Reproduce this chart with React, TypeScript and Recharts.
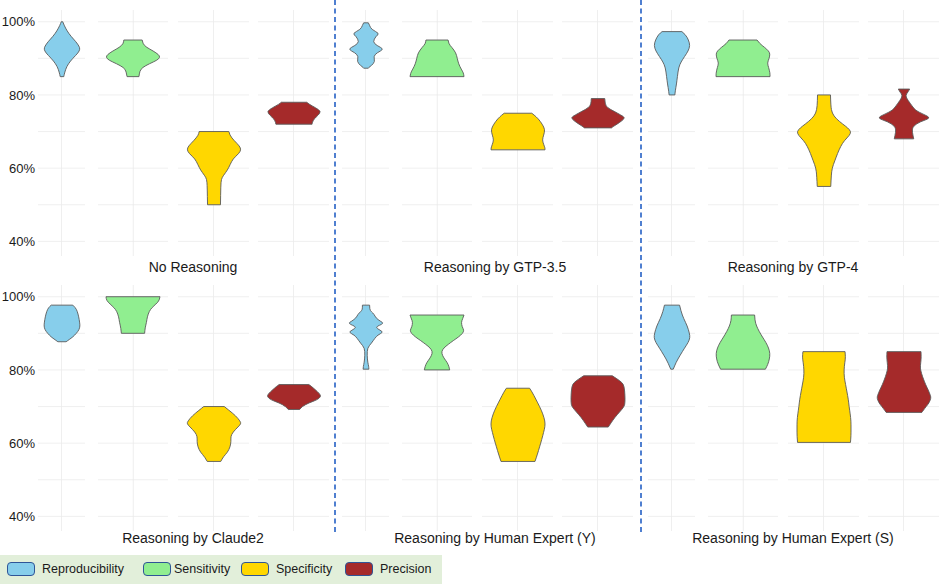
import React from 'react';
import { ComposedChart, Bar, XAxis, YAxis, CartesianGrid } from 'recharts';

// ---------- data ----------
const metrics = ['Reproducibility', 'Sensitivity', 'Specificity', 'Precision'];
const metricColors = ['#87CEEB', '#90EE90', '#FFD700', '#A52A2A'];
const row1Groups = ['No Reasoning', 'Reasoning by GTP-3.5', 'Reasoning by GTP-4'];
const row2Groups = ['Reasoning by Claude2', 'Reasoning by Human Expert (Y)', 'Reasoning by Human Expert (S)'];
const yTicks = [40, 50, 60, 70, 80, 90, 100];

// violin profiles: [value %, relative width (1 = widest)]
const noReasRepro = [[100, 0.04], [99, 0.12], [97.5, 0.28], [96, 0.5], [94.5, 0.78], [93.3, 0.95], [92.5, 1.0], [91.5, 0.9], [90, 0.6], [88.5, 0.35], [87, 0.2], [85.5, 0.12], [85, 0.1]];
const noReasSens = [[95, 0.34], [94, 0.36], [93, 0.5], [92, 0.75], [91, 0.95], [90.3, 1.0], [89.5, 0.9], [88.5, 0.6], [87.5, 0.35], [86.5, 0.25], [85, 0.22]];
const noReasSpec = [[70, 0.55], [69, 0.58], [67.5, 0.75], [66, 0.95], [65, 1.0], [64, 0.92], [62.5, 0.7], [61, 0.6], [59.5, 0.5], [58, 0.35], [57, 0.27], [55, 0.25], [50, 0.24]];
const noReasPrec = [[78, 0.47], [77.5, 0.55], [76.5, 0.8], [75.5, 1.0], [74.5, 0.9], [73.5, 0.75], [72.5, 0.68], [72, 0.67]];

const gpt35Repro = [[99.7, 0.13], [99, 0.2], [97.9, 0.3], [96.8, 0.75], [96, 0.55], [94.5, 0.38], [93.5, 0.6], [92.5, 1.0], [91.5, 0.6], [90.5, 0.42], [89.1, 0.5], [88, 0.3], [87.5, 0.15], [87.3, 0.13]];
const gpt35Sens = [[95, 0.41], [94, 0.43], [93, 0.55], [91.5, 0.7], [90, 0.75], [88.5, 0.8], [87, 0.9], [86, 0.98], [85, 1.0]];
const gpt35Spec = [[75, 0.51], [74.5, 0.6], [73.5, 0.75], [72, 0.9], [70.5, 1.0], [69, 0.95], [67.7, 0.9], [66.5, 0.95], [65.5, 1.0], [65, 1.0]];
const gpt35Prec = [[79, 0.25], [77.5, 0.26], [76.5, 0.35], [75.5, 0.6], [74.5, 0.85], [73.8, 1.0], [73, 0.9], [72, 0.7], [71.3, 0.55], [71, 0.5]];

const gpt4Repro = [[97.3, 0.55], [96.5, 0.75], [95, 0.92], [93.5, 1.0], [92, 0.9], [90.5, 0.7], [89, 0.5], [87.5, 0.37], [85, 0.3], [83, 0.25], [81, 0.18], [80, 0.16]];
const gpt4Sens = [[95, 0.52], [94, 0.62], [93, 0.8], [92, 0.95], [91.2, 1.0], [90, 0.97], [88.7, 0.9], [87.5, 0.95], [86, 1.0], [85, 1.0]];
const gpt4Spec = [[80, 0.24], [77, 0.25], [75, 0.3], [73.5, 0.45], [72, 0.7], [71, 0.88], [70, 1.0], [69, 0.95], [67.5, 0.75], [66, 0.62], [64, 0.5], [62, 0.4], [60, 0.3], [58, 0.27], [55, 0.25]];
const gpt4Prec = [[81.6, 0.21], [80.8, 0.15], [79.8, 0.05], [78.5, 0.15], [77, 0.3], [75.8, 0.42], [74.8, 0.7], [73.7, 1.0], [72.7, 0.6], [71.5, 0.35], [70.5, 0.3], [69, 0.33], [68, 0.36]];

const claudeRepro = [[97.7, 0.6], [97, 0.75], [96, 0.85], [94.5, 0.93], [93, 0.98], [92, 1.0], [91, 0.95], [90, 0.8], [89, 0.6], [88.3, 0.4], [87.7, 0.23]];
const claudeSens = [[100, 1.0], [99, 0.98], [98, 0.85], [97, 0.7], [96, 0.6], [94.5, 0.53], [93, 0.5], [91.5, 0.45], [90, 0.43]];
const claudeSpec = [[70, 0.38], [69, 0.55], [67.5, 0.8], [66, 0.97], [65.3, 1.0], [64.5, 0.9], [63, 0.7], [61.8, 0.62], [60.5, 0.63], [59, 0.6], [57.5, 0.5], [56.3, 0.35], [55, 0.25]];
const claudePrec = [[76, 0.55], [75.5, 0.65], [74.5, 0.8], [73.5, 0.95], [72.7, 1.0], [71.8, 0.85], [71, 0.55], [70, 0.3], [69.2, 0.21]];

const humanYRepro = [[97.7, 0.2], [96.5, 0.2], [95.9, 0.3], [95.2, 0.45], [94.2, 0.55], [93.3, 0.8], [92.7, 1.0], [91.7, 0.5], [90.8, 0.8], [90.3, 0.95], [89.5, 0.65], [88.7, 0.5], [87.3, 0.3], [86, 0.08], [84, 0.06], [82, 0.1], [81, 0.15], [80.2, 0.16]];
const humanYSens = [[95, 1.0], [94, 0.95], [93, 0.9], [91.8, 0.93], [90.8, 1.0], [90, 0.95], [89, 0.8], [88, 0.6], [87, 0.42], [86, 0.25], [85, 0.17], [84, 0.2], [83, 0.28], [82, 0.38], [81, 0.44], [80, 0.47]];
const humanYSpec = [[75, 0.43], [74, 0.52], [72, 0.66], [70, 0.8], [68, 0.92], [66, 1.0], [64.5, 1.0], [63, 0.95], [61, 0.88], [59, 0.8], [57, 0.72], [55, 0.63]];
const humanYPrec = [[78.4, 0.53], [77.5, 0.72], [76.5, 0.9], [75.5, 0.97], [73, 1.0], [71, 1.0], [70, 0.97], [68.5, 0.8], [67, 0.62], [65.5, 0.48], [64.4, 0.38]];

const humanSRepro = [[97.7, 0.42], [96, 0.5], [94, 0.65], [92, 0.85], [90, 0.97], [88.8, 1.0], [87.5, 0.9], [86, 0.7], [84, 0.45], [82, 0.22], [80.2, 0.07]];
const humanSSens = [[95, 0.43], [93.5, 0.44], [92, 0.5], [90.5, 0.6], [89, 0.72], [87.5, 0.85], [86, 0.95], [84.5, 1.0], [83, 0.98], [81.5, 0.92], [80.2, 0.83]];
const humanSSpec = [[85, 0.78], [83.5, 0.8], [82, 0.77], [80, 0.74], [78, 0.75], [76, 0.8], [74, 0.85], [72, 0.9], [70, 0.93], [68, 0.97], [66, 1.0], [64, 1.0], [62, 1.0], [60.2, 0.98]];
const humanSPrec = [[85, 0.63], [83.5, 0.64], [82, 0.62], [80.5, 0.6], [79, 0.65], [77.5, 0.72], [76, 0.8], [74.5, 0.9], [73, 0.98], [72.3, 1.0], [71, 0.93], [70, 0.82], [69, 0.72], [68.4, 0.66]];

const row1Profiles = [
  [noReasRepro, noReasSens, noReasSpec, noReasPrec],
  [gpt35Repro, gpt35Sens, gpt35Spec, gpt35Prec],
  [gpt4Repro, gpt4Sens, gpt4Spec, gpt4Prec],
];
const row2Profiles = [
  [claudeRepro, claudeSens, claudeSpec, claudePrec],
  [humanYRepro, humanYSens, humanYSpec, humanYPrec],
  [humanSRepro, humanSSens, humanSSpec, humanSPrec],
];

// ---------- layout ----------
const FONT = '"Liberation Sans", Arial, Helvetica, sans-serif';
const Y_DOMAIN = [36, 103.2];
const PLOT_H = 246;
const ROW_TOPS = [10, 285];
const GROUP_STARTS = [38, 342, 648];
const SUB_OFFSETS = [0, 59.5, 139.5, 220];
const SUB_WIDTHS = [47, 70.5, 71, 71];
const LABEL_X = [193, 495, 793];
const LABEL_Y = [267, 538];
const AXIS_W = 38;

function smoothSeg(pts: number[][]) {
  let d = '';
  for (let i = 1; i < pts.length - 1; i++) {
    const mx = (pts[i][0] + pts[i + 1][0]) / 2;
    const my = (pts[i][1] + pts[i + 1][1]) / 2;
    d += ` Q ${pts[i][0]} ${pts[i][1]} ${mx} ${my}`;
  }
  const last = pts[pts.length - 1];
  d += ` L ${last[0]} ${last[1]}`;
  return d;
}

function makeViolin(profile: number[][], fill: string) {
  return (props: any) => {
    const { x, y, width, height } = props;
    const vals = profile.map((p) => p[0]);
    const vmax = Math.max(...vals);
    const vmin = Math.min(...vals);
    const top = Math.min(y, y + height);
    const bot = Math.max(y, y + height);
    const cx = x + width / 2;
    const half = width / 2;
    const sorted = [...profile].sort((a, b) => b[0] - a[0]);
    const py = (v: number) => top + ((vmax - v) / (vmax - vmin)) * (bot - top);
    const right = sorted.map(([v, w]) => [cx + w * half, py(v)]);
    const left = sorted.map(([v, w]) => [cx - w * half, py(v)]).reverse();
    let d = `M ${left[left.length - 1][0]} ${left[left.length - 1][1]} L ${right[0][0]} ${right[0][1]}`;
    d += smoothSeg(right);
    d += ` L ${left[0][0]} ${left[0][1]}`;
    d += smoothSeg(left);
    d += ' Z';
    return <path d={d} fill={fill} stroke="#5a5a5a" strokeWidth={0.9} strokeLinejoin="round" />;
  };
}

const vGen = (p: any) => [p.offset.left + p.offset.width / 2];
const hGen = (p: any) => {
  const sc = p.yAxis && p.yAxis.scale;
  if (sc && typeof sc === 'function') return yTicks.map((t) => sc(t));
  const o = p.offset;
  return yTicks.map((t) => o.top + ((Y_DOMAIN[1] - t) / (Y_DOMAIN[1] - Y_DOMAIN[0])) * o.height);
};

function SubChart({ profile, color, name, plotW, withAxis }: any) {
  const vals = profile.map((p: number[]) => p[0]);
  const data = [{ name, range: [Math.min(...vals), Math.max(...vals)] }];
  const w = plotW + (withAxis ? AXIS_W : 0);
  return (
    <ComposedChart width={w} height={PLOT_H} data={data} margin={{ top: 0, right: 0, bottom: 0, left: 0 }}>
      <CartesianGrid
        stroke="#EBEBEB"
        strokeWidth={0.8}
        verticalCoordinatesGenerator={vGen}
        horizontalCoordinatesGenerator={hGen}
      />
      <XAxis dataKey="name" type="category" hide />
      <YAxis
        type="number"
        domain={Y_DOMAIN}
        ticks={yTicks}
        interval={0}
        allowDataOverflow
        hide={!withAxis}
        width={AXIS_W}
        axisLine={false}
        tickLine={false}
        tickSize={0}
        tickMargin={3}
        tick={{ fill: '#1a1a1a', fontSize: 13, fontFamily: FONT }}
        tickFormatter={(v: number) => (v % 20 === 0 ? `${v}%` : '')}
      />
      <Bar
        dataKey="range"
        barSize={Math.round(plotW * 0.76)}
        isAnimationActive={false}
        shape={makeViolin(profile, color)}
      />
    </ComposedChart>
  );
}

function Row({ rowIndex, groups, profiles }: any) {
  const top = ROW_TOPS[rowIndex];
  return (
    <>
      {groups.map((g: string, gi: number) => (
        <React.Fragment key={g}>
          {metrics.map((m, mi) => {
            const withAxis = gi === 0 && mi === 0;
            const left = GROUP_STARTS[gi] + SUB_OFFSETS[mi] - (withAxis ? AXIS_W : 0);
            return (
              <div key={m} style={{ position: 'absolute', left, top }}>
                <SubChart
                  profile={profiles[gi][mi]}
                  color={metricColors[mi]}
                  name={m}
                  plotW={SUB_WIDTHS[mi]}
                  withAxis={withAxis}
                />
              </div>
            );
          })}
          <div
            style={{
              position: 'absolute',
              left: LABEL_X[gi] - 150,
              width: 300,
              top: LABEL_Y[rowIndex] - 9,
              height: 18,
              lineHeight: '18px',
              textAlign: 'center',
              fontFamily: FONT,
              fontSize: 14,
              color: '#1a1a1a',
            }}
          >
            {g}
          </div>
        </React.Fragment>
      ))}
    </>
  );
}

const LEGEND_KEY_X = [7, 143, 241, 345];

export default function App() {
  return (
    <div style={{ position: 'absolute', left: 0, top: 0, width: 941, height: 584, background: '#fff', overflow: 'hidden', fontFamily: FONT }}>
      <Row rowIndex={0} groups={row1Groups} profiles={row1Profiles} />
      <Row rowIndex={1} groups={row2Groups} profiles={row2Profiles} />
      <svg width={941} height={584} style={{ position: 'absolute', left: 0, top: 0, pointerEvents: 'none' }}>
        <line x1={335} x2={335} y1={0} y2={533} stroke="#4F7FD0" strokeWidth={2} strokeDasharray="5 3.5" />
        <line x1={641} x2={641} y1={0} y2={533} stroke="#4F7FD0" strokeWidth={2} strokeDasharray="5 3.5" />
      </svg>
      <div style={{ position: 'absolute', left: 0, top: 555, width: 442, height: 29, background: '#E2EFDA' }}>
        {metrics.map((m, i) => (
          <React.Fragment key={m}>
            <div
              style={{
                position: 'absolute',
                left: LEGEND_KEY_X[i],
                top: 7,
                width: 26,
                height: 12,
                background: metricColors[i],
                border: '1.5px solid #2F5597',
                borderRadius: 4,
              }}
            />
            <div
              style={{
                position: 'absolute',
                left: LEGEND_KEY_X[i] + (i === 1 ? 31 : 35),
                top: 6,
                height: 16,
                lineHeight: '16px',
                fontSize: 12.5,
                color: '#1a1a1a',
                whiteSpace: 'nowrap',
              }}
            >
              {m}
            </div>
          </React.Fragment>
        ))}
      </div>
    </div>
  );
}
